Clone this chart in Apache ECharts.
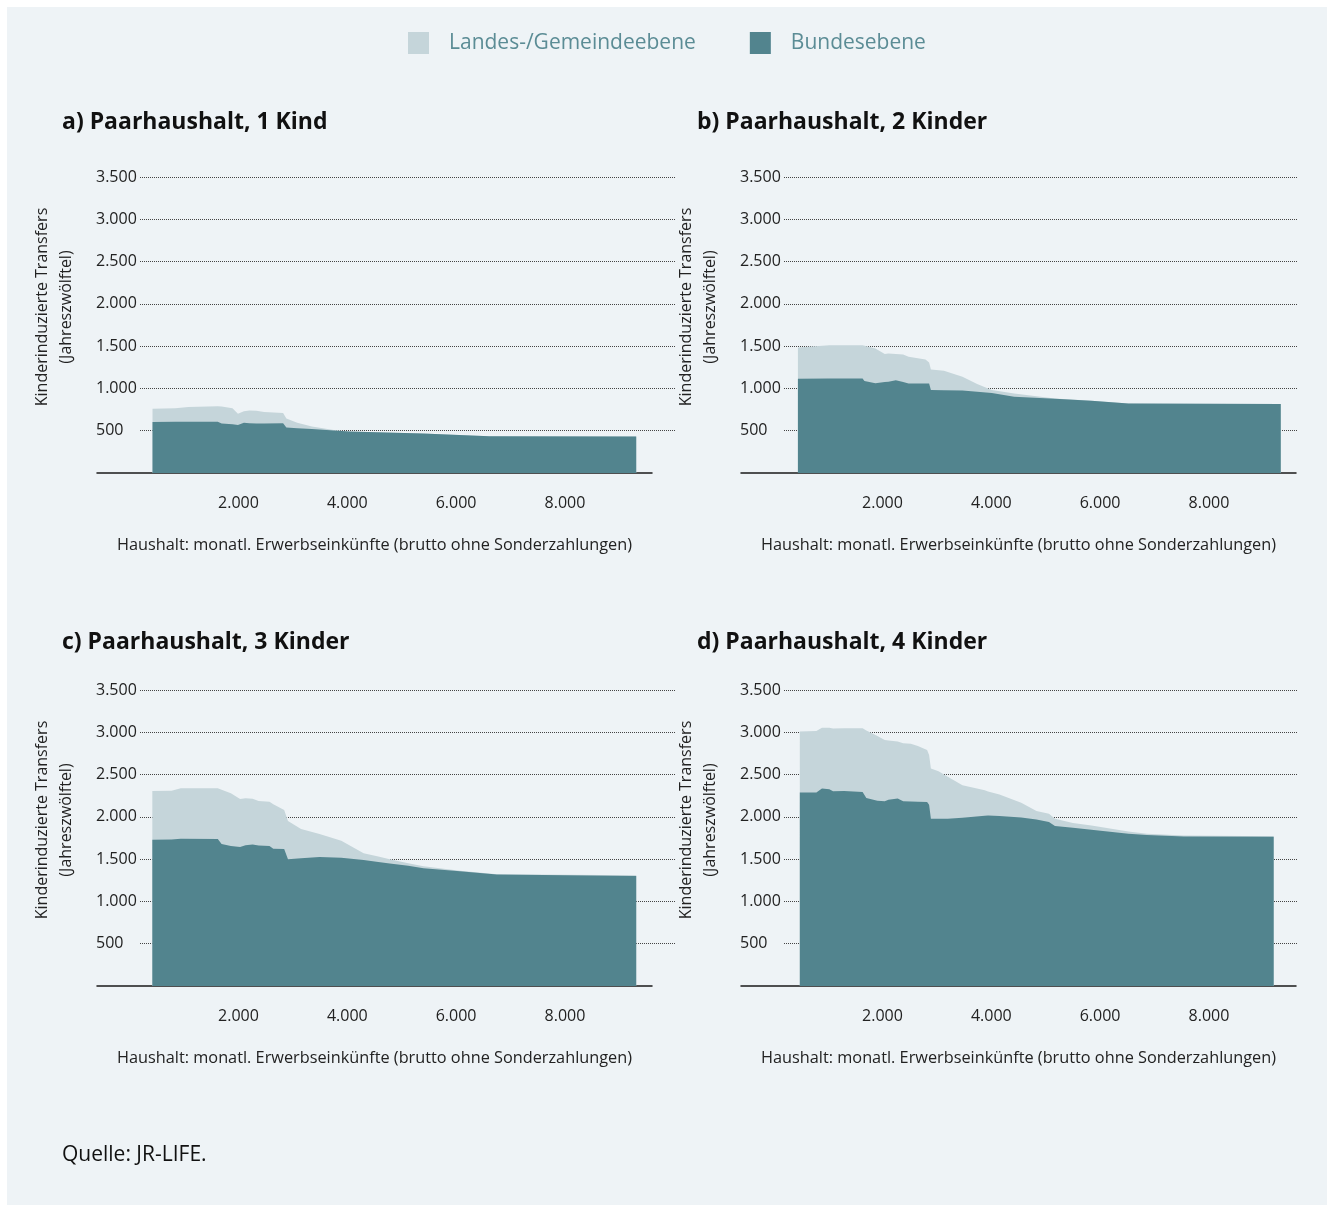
<!DOCTYPE html>
<html>
<head>
<meta charset="utf-8">
<script src="https://cdn.jsdelivr.net/npm/echarts@6/dist/echarts.min.js"></script>
<style>
  html, body { margin: 0; padding: 0; background: #fff; }
  #chart { width: 1327px; height: 1206px; }
</style>
</head>
<body>
<div id="chart"></div>
<script>
  // monatl. Erwerbseinkünfte (x) und Transfers je Ebene
  var xA = [420, 840, 1080, 1620, 1690, 1890, 1990, 2100, 2200, 2330, 2470, 2820, 2880, 3080, 3350, 3750, 4030, 5390, 6610, 9310]
  var bundA = [603, 605, 606, 607, 584, 575, 569, 595, 588, 584, 585, 588, 538, 530, 519, 502, 492, 466, 435, 431]
  var landA = [157, 160, 173, 183, 203, 192, 133, 135, 152, 151, 136, 122, 107, 65, 31, 5, 0, 0, 0, 0]

  var xB = [446, 1024, 1635, 1668, 1870, 2042, 2110, 2246, 2380, 2480, 2790, 2857, 2890, 3130, 3470, 3740, 4010, 4420, 5170, 5840, 6520, 9320]
  var bundB = [1114, 1116, 1118, 1087, 1062, 1075, 1079, 1098, 1075, 1059, 1059, 1059, 980, 979, 976, 962, 945, 902, 878, 853, 823, 815]
  var landB = [370, 396, 394, 413, 410, 331, 334, 310, 327, 315, 284, 248, 244, 230, 162, 89, 35, 39, 4, 2, 0, 0]

  var xC = [417, 770, 940, 975, 1620, 1690, 1860, 2030, 2130, 2260, 2370, 2570, 2640, 2840, 2910, 3150, 3490, 3890, 4300, 4570, 4780, 5120, 5400, 6070, 6750, 9310]
  var bundC = [1729, 1733, 1740, 1753, 1737, 1678, 1655, 1645, 1665, 1674, 1660, 1655, 1622, 1619, 1500, 1510, 1526, 1515, 1490, 1465, 1448, 1421, 1393, 1358, 1318, 1302]
  var landC = [577, 577, 598, 585, 601, 642, 624, 566, 554, 539, 528, 525, 528, 462, 451, 346, 270, 202, 81, 67, 52, 29, 22, 5, 4, 8]

  var xD = [481, 785, 888, 1024, 1092, 1295, 1635, 1703, 1906, 2042, 2110, 2280, 2380, 2520, 2650, 2820, 2857, 2890, 3030, 3200, 3470, 3880, 3940, 4150, 4550, 4830, 5060, 5170, 5500, 5840, 6520, 6860, 7540, 9190]
  var bundD = [2287, 2287, 2334, 2326, 2303, 2307, 2295, 2223, 2190, 2184, 2203, 2216, 2184, 2182, 2178, 2176, 2144, 1978, 1978, 1978, 1990, 2012, 2017, 2010, 1992, 1970, 1938, 1891, 1870, 1847, 1800, 1785, 1768, 1764]
  var landD = [721, 729, 721, 729, 742, 741, 753, 797, 766, 726, 699, 674, 685, 683, 660, 614, 587, 594, 562, 495, 384, 303, 283, 253, 176, 99, 99, 87, 56, 52, 27, 15, 12, 8]

  var titles = ['a) Paarhaushalt, 1 Kind', 'b) Paarhaushalt, 2 Kinder', 'c) Paarhaushalt, 3 Kinder', 'd) Paarhaushalt, 4 Kinder']
  var xTicks = [2000, 4000, 6000, 8000]
  var nameLand = 'Landes-/Gemeindeebene'
  var nameBund = 'Bundesebene'

  var FONT = '"Open Sans"'
  var colLand = '#c5d5da'
  var colBund = '#52848e'

  function fmt(v) {
    return String(v).replace(/\B(?=(\d{3})+(?!\d))/g, '.')
  }

  var panels = [
    { x: xA, bund: bundA, land: landA, left: 97, top: 177, gridRight: 675, titleX: 62, titleY: 122 },
    { x: xB, bund: bundB, land: landB, left: 741, top: 177, gridRight: 1297, titleX: 697, titleY: 122 },
    { x: xC, bund: bundC, land: landC, left: 97, top: 690, gridRight: 675, titleX: 62, titleY: 642 },
    { x: xD, bund: bundD, land: landD, left: 741, top: 690, gridRight: 1297, titleX: 697, titleY: 642 }
  ]

  var grid = [], xAxis = [], yAxis = [], series = []
  var graphic = [{
    type: 'rect', z: -10, silent: true,
    shape: { x: 7, y: 7, width: 1320, height: 1198 },
    style: { fill: '#eef3f6' }
  }]

  var plotH = 296
  var per500 = plotH / 7

  panels.forEach(function (p, i) {
    // data grid
    grid.push({ left: p.left, top: p.top, width: 555, height: plotH })
    // decoration grid for the dotted lines (500..3500)
    grid.push({ left: p.left + 43, top: p.top, width: p.gridRight - p.left - 43, height: per500 * 6 })

    var gi = i * 2
    xAxis.push({
      type: 'value', gridIndex: gi, min: -600, max: 9600,
      axisLine: { show: true, onZero: false, lineStyle: { color: '#1a1a1a', width: 1.5 } },
      axisTick: { show: false },
      splitLine: { show: false },
      axisLabel: { customValues: xTicks, formatter: fmt, color: '#222', fontSize: 16, fontFamily: FONT, margin: 22 },
      name: 'Haushalt: monatl. Erwerbseinkünfte (brutto ohne Sonderzahlungen)',
      nameLocation: 'middle', nameGap: 64,
      nameTextStyle: { color: '#222', fontSize: 16.3, fontFamily: FONT }
    })
    yAxis.push({ type: 'value', gridIndex: gi, min: 0, max: 3500, show: false })

    xAxis.push({ type: 'value', gridIndex: gi + 1, min: 0, max: 1, show: false })
    yAxis.push({
      type: 'value', gridIndex: gi + 1, min: 500, max: 3500, interval: 500,
      axisLine: { show: false }, axisTick: { show: false },
      axisLabel: { align: 'left', margin: 44, formatter: fmt, color: '#222', fontSize: 16, fontFamily: FONT },
      splitLine: { show: true, lineStyle: { type: 'dotted', color: '#444', width: 1 } }
    })

    // Gesamthöhe = Bund + Land; Landesfläche liegt hinter der Bundesfläche
    series.push({
      name: nameLand, type: 'line', xAxisIndex: gi, yAxisIndex: gi,
      data: p.x.map(function (x, k) { return [x, p.bund[k] + p.land[k]] }),
      showSymbol: false, lineStyle: { width: 0 }, itemStyle: { color: colLand },
      areaStyle: { color: colLand, opacity: 1 }, emphasis: { disabled: true }
    })
    series.push({
      name: nameBund, type: 'line', xAxisIndex: gi, yAxisIndex: gi,
      data: p.x.map(function (x, k) { return [x, p.bund[k]] }),
      showSymbol: false, lineStyle: { width: 0 }, itemStyle: { color: colBund },
      areaStyle: { color: colBund, opacity: 1 }, emphasis: { disabled: true }
    })

    graphic.push({
      type: 'text', x: p.titleX, y: p.titleY,
      style: { text: titles[i], font: 'bold 23px ' + FONT, fill: '#111', verticalAlign: 'middle' }
    })
    graphic.push({
      type: 'text', x: p.left - 43, y: p.top + 130, rotation: Math.PI / 2,
      style: {
        text: 'Kinderinduzierte Transfers\n(Jahreszwölftel)', font: '16px ' + FONT, fill: '#222',
        align: 'center', verticalAlign: 'middle', lineHeight: 24
      }
    })
  })

  graphic.push({
    type: 'text', x: 62, y: 1155,
    style: { text: 'Quelle: JR-LIFE.', font: '21px ' + FONT, fill: '#111', verticalAlign: 'middle' }
  })

  var chart = echarts.init(document.getElementById('chart'))
  chart.setOption({
    animation: false,
    backgroundColor: '#ffffff',
    textStyle: { fontFamily: FONT },
    legend: {
      left: 408, top: 32, padding: 0, itemWidth: 21, itemHeight: 22, itemGap: 54, icon: 'rect',
      data: [nameLand, nameBund],
      textStyle: { color: '#5b8c95', fontSize: 21, fontFamily: FONT, padding: [0, 0, 0, 15] }
    },
    grid: grid,
    xAxis: xAxis,
    yAxis: yAxis,
    graphic: graphic,
    series: series
  })
</script>
</body>
</html>
